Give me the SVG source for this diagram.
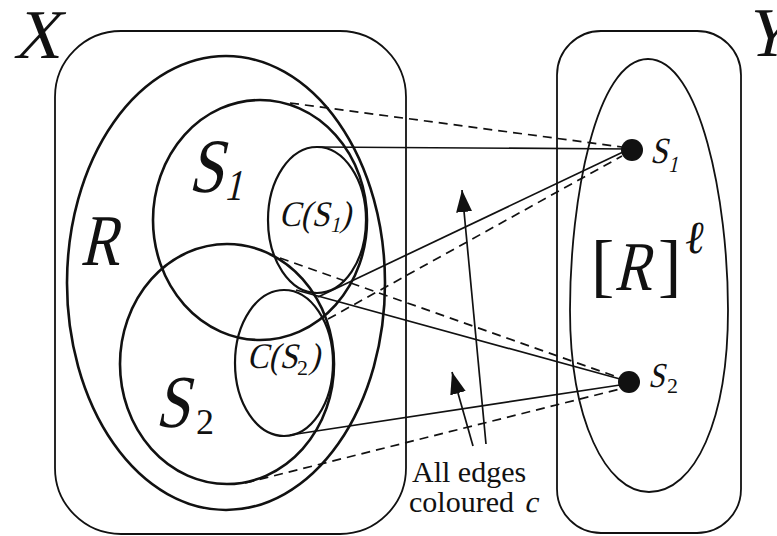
<svg xmlns="http://www.w3.org/2000/svg" width="777" height="536" viewBox="0 0 777 536">
  <defs>
    <marker id="head" viewBox="0 0 22 16" refX="22" refY="8" markerWidth="22" markerHeight="16" markerUnits="userSpaceOnUse" orient="auto">
      <path d="M0,0 L22,8 L0,16 Z" fill="#111"/>
    </marker>
  </defs>
  <style>
    .box { fill: none; stroke: #111; stroke-width: 1.8; }
    .set { fill: none; stroke: #111; stroke-width: 2.6; }
    .core { fill: none; stroke: #111; stroke-width: 2.2; }
    .edge { fill: none; stroke: #111; stroke-width: 1.7; }
    .dash { fill: none; stroke: #111; stroke-width: 1.7; stroke-dasharray: 9 6; }
    .arrow { fill: none; stroke: #111; stroke-width: 1.7; marker-end: url(#head); }
    .dot { fill: #111; }
    text { font-family: "Liberation Serif", "DejaVu Serif", serif; fill: #111; }
  </style>

  <!-- ground set X (math letters are slanted roman glyphs) -->
  <g id="X">
    <rect class="box" x="55" y="31" width="351" height="503" rx="66" ry="66"/>
    <text transform="translate(13,58) skewX(-13) scale(0.92,1)" font-size="70">X</text>
  </g>

  <!-- set of colours Y -->
  <g id="Y">
    <rect class="box" x="557" y="31" width="184" height="502" rx="44" ry="44"/>
    <text transform="translate(744,56) skewX(-13) scale(0.9,1)" font-size="70">Y</text>
  </g>

  <!-- R inside X -->
  <g id="R">
    <ellipse class="set" cx="226" cy="283" rx="159" ry="227"/>
    <text transform="translate(80,265) skewX(-13) scale(0.8,1)" font-size="73">R</text>
  </g>

  <g id="S1">
    <ellipse class="set" cx="260" cy="220" rx="107" ry="120"/>
    <text transform="translate(188,192) skewX(-13) scale(0.82,1)" font-size="77">S</text>
    <text transform="translate(224,200) skewX(-13) scale(0.8,1)" font-size="44">1</text>
  </g>

  <g id="S2">
    <ellipse class="set" cx="227" cy="364" rx="107" ry="120"/>
    <text transform="translate(155,427) skewX(-13) scale(0.82,1)" font-size="75">S</text>
    <text x="196" y="434" font-size="36">2</text>
  </g>

  <g id="CS1">
    <ellipse class="core" cx="317" cy="220" rx="49" ry="73"/>
    <text transform="translate(279,226) skewX(-13) scale(0.9,1)" font-size="36">C(S</text>
    <text transform="translate(330,232) skewX(-13) scale(0.9,1)" font-size="22">1</text>
    <text transform="translate(340,226) skewX(-13) scale(0.9,1)" font-size="36">)</text>
  </g>

  <g id="CS2">
    <ellipse class="core" cx="284" cy="363" rx="49" ry="73"/>
    <text transform="translate(247,368) skewX(-13) scale(0.9,1)" font-size="36">C(S</text>
    <text x="297" y="375" font-size="22">2</text>
    <text transform="translate(309,368) skewX(-13) scale(0.9,1)" font-size="36">)</text>
  </g>

  <!-- [R]^l inside Y -->
  <g id="Rl">
    <path class="box" d="M648,59 C700,59 728,200 728,310 C728,420 695,492 649,492 C606,492 570,420 570,310 C570,200 596,59 648,59 Z"/>
    <text x="591" y="289" font-size="70">[</text>
    <text transform="translate(614,290) skewX(-13) scale(0.8,1)" font-size="70">R</text>
    <text x="658" y="289" font-size="70">]</text>
    <text transform="translate(682,253) skewX(-8)" font-size="46">ℓ</text>
  </g>

  <g id="nS1">
    <circle class="dot" cx="632" cy="150" r="11"/>
    <text transform="translate(650,163) skewX(-13) scale(0.85,1)" font-size="37">S</text>
    <text transform="translate(668,172) skewX(-13) scale(0.85,1)" font-size="23">1</text>
  </g>

  <g id="nS2">
    <circle class="dot" cx="629" cy="382" r="11"/>
    <text transform="translate(648,387) skewX(-13) scale(0.85,1)" font-size="35">S</text>
    <text x="667" y="393" font-size="22">2</text>
  </g>

  <!-- edges between the two sides -->
  <g id="connectors">
    <line class="edge" x1="317" y1="147" x2="631" y2="149"/>
    <line class="dash" x1="290" y1="103" x2="622" y2="147"/>
    <line class="edge" x1="318" y1="297" x2="623" y2="152"/>
    <line class="dash" x1="328" y1="319" x2="622" y2="156"/>
    <line class="dash" x1="280" y1="258" x2="620" y2="378"/>
    <line class="edge" x1="296" y1="290" x2="620" y2="379"/>
    <line class="edge" x1="290" y1="435" x2="620" y2="385"/>
    <line class="dash" x1="245" y1="483" x2="620" y2="389"/>
    <line class="arrow" x1="486" y1="444" x2="462" y2="190"/>
    <line class="arrow" x1="473" y1="446" x2="452" y2="372"/>
  </g>

  <g id="caption">
    <text x="412" y="482" font-size="30">All edges</text>
    <text x="409" y="512" font-size="30">coloured</text>
    <text transform="translate(524,512) skewX(-13)" font-size="30">c</text>
  </g>
</svg>
